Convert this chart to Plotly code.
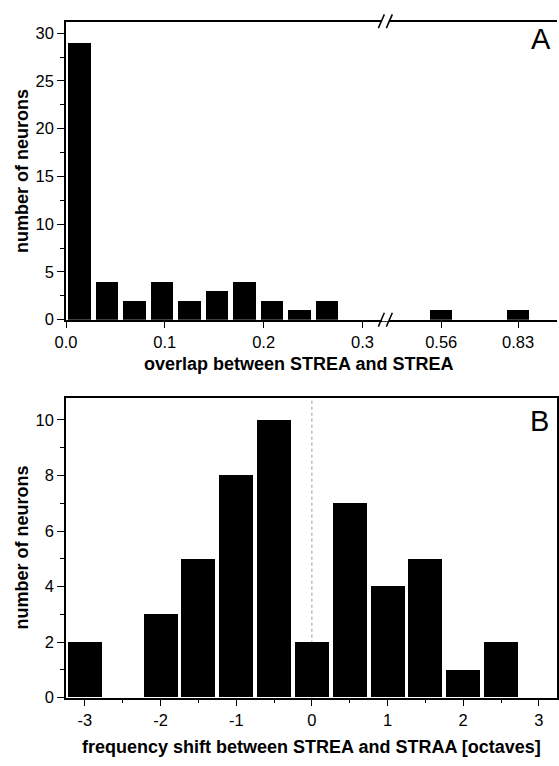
import plotly.graph_objects as go

# ---------------- data ----------------
# Panel A: overlap histogram (left segment of broken axis)
a_centers = [0.0139, 0.0417, 0.0694, 0.0972, 0.125, 0.1528, 0.1806, 0.2083, 0.2361, 0.2639]
a_counts = [29, 4, 2, 4, 2, 3, 4, 2, 1, 2]
# Panel A: values beyond the axis break
a_far_centers = [0.56, 0.83]
a_far_counts = [1, 1]
a_left_ticks = [0.0, 0.1, 0.2, 0.3]
a_left_ticklabels = ["0.0", "0.1", "0.2", "0.3"]
a_right_ticks = [0.56, 0.83]
a_right_ticklabels = ["0.56", "0.83"]

# Panel B: frequency shift histogram
b_centers = [-3, -2.5, -2, -1.5, -1, -0.5, 0, 0.5, 1, 1.5, 2, 2.5, 3]
b_counts = [2, 0, 3, 5, 8, 10, 2, 7, 4, 5, 1, 2, 0]
b_ticks = [-3, -2, -1, 0, 1, 2, 3]

# ---------------- layout helpers ----------------
W, H = 559, 766
ML, MR = 66, 1
PW = W - ML - MR


def px(x):
    return (x - ML) / PW


def py(y):
    return (H - y) / H


FONT = "Arial, Liberation Sans, Helvetica, sans-serif"
tickfont = dict(family=FONT, size=16.5, color="black")

fig = go.Figure()

fig.add_trace(go.Bar(x=a_centers, y=a_counts, width=0.0228, xaxis="x", yaxis="y",
                     marker=dict(color="black", line=dict(width=0)), showlegend=False))
fig.add_trace(go.Bar(x=a_far_centers, y=a_far_counts, width=0.077, xaxis="x2", yaxis="y",
                     marker=dict(color="black", line=dict(width=0)), showlegend=False))
fig.add_trace(go.Bar(x=b_centers, y=b_counts, width=0.45, xaxis="x3", yaxis="y3",
                     marker=dict(color="black", line=dict(width=0)), showlegend=False))

common_axis = dict(showline=True, linecolor="black", linewidth=1.5, showgrid=False,
                   zeroline=False, ticks="outside", ticklen=7, tickwidth=1.2,
                   tickcolor="black", tickfont=tickfont)

x_break = 387
fig.update_layout(
    width=W, height=H,
    margin=dict(l=ML, r=MR, t=0, b=0),
    paper_bgcolor="white", plot_bgcolor="white",
    bargap=0,
    xaxis=dict(domain=[0, px(x_break)], range=[0, 0.3242], anchor="y", mirror=True,
               tickmode="array", tickvals=a_left_ticks, ticktext=a_left_ticklabels,
               **common_axis),
    xaxis2=dict(domain=[px(x_break), 1], range=[0.367, 0.967], anchor="y", mirror=True,
                tickmode="array", tickvals=a_right_ticks, ticktext=a_right_ticklabels,
                **common_axis),
    yaxis=dict(domain=[py(323.5), py(22)], range=[0, 31.2], anchor="x", mirror=False,
               tickmode="linear", tick0=0, dtick=5,
               minor=dict(ticks="outside", ticklen=4, tickcolor="black", dtick=2.5, tick0=0),
               **common_axis),
    xaxis3=dict(domain=[0, 1], range=[-3.25, 3.24], anchor="y3", mirror=True,
                tickmode="array", tickvals=b_ticks, ticktext=[str(t) for t in b_ticks],
                minor=dict(ticks="outside", ticklen=4, tickcolor="black", dtick=0.5, tick0=0),
                **common_axis),
    yaxis3=dict(domain=[py(706), py(403)], range=[0, 10.78], anchor="x3", mirror=True,
                tickmode="linear", tick0=0, dtick=2,
                minor=dict(ticks="outside", ticklen=4, tickcolor="black", dtick=1, tick0=0),
                **common_axis),
)

# dotted zero line in panel B
fig.add_shape(type="line", xref="x3", yref="y3 domain", x0=0, x1=0, y0=0, y1=1,
              line=dict(color="#999999", width=1, dash="dot"), layer="below")

# axis break marks (//) on bottom and top of panel A
for ybase in (323.5, 21.5):
    fig.add_shape(type="line", xref="paper", yref="paper",
                  x0=px(382.5), x1=px(389.5), y0=py(ybase), y1=py(ybase),
                  line=dict(color="white", width=3))
    for cx in (382, 390):
        fig.add_shape(type="line", xref="paper", yref="paper",
                      x0=px(cx - 3), y0=py(ybase + 7), x1=px(cx + 3), y1=py(ybase - 7),
                      line=dict(color="black", width=1.5))

titlefont = dict(family=FONT, size=18, color="black")
annots = [
    dict(x=px(299), y=py(368), text="<b>overlap between STREA and STREA</b>"),
    dict(x=px(312), y=py(756), text="<b>frequency shift between STREA and STRAA [octaves]</b>"),
    dict(x=px(22), y=py(173), text="<b>number of neurons</b>", textangle=-90),
    dict(x=px(22), y=py(554), text="<b>number of neurons</b>", textangle=-90),
]
for a in annots:
    fig.add_annotation(xref="paper", yref="paper", showarrow=False, font=titlefont,
                       xanchor="center", yanchor="middle", **a)

letterfont = dict(family=FONT, size=29, color="black")
fig.add_annotation(xref="paper", yref="paper", x=px(541.5), y=py(39.5), text="A",
                   showarrow=False, font=letterfont, xanchor="center", yanchor="middle")
fig.add_annotation(xref="paper", yref="paper", x=px(540), y=py(426), text="B",
                   showarrow=False, font=letterfont, xanchor="center", yanchor="middle")

fig.write_html(
    "out.html",
    config={"displayModeBar": False},
    post_script="document.body.style.margin='0px';document.body.style.overflow='hidden';",
)
